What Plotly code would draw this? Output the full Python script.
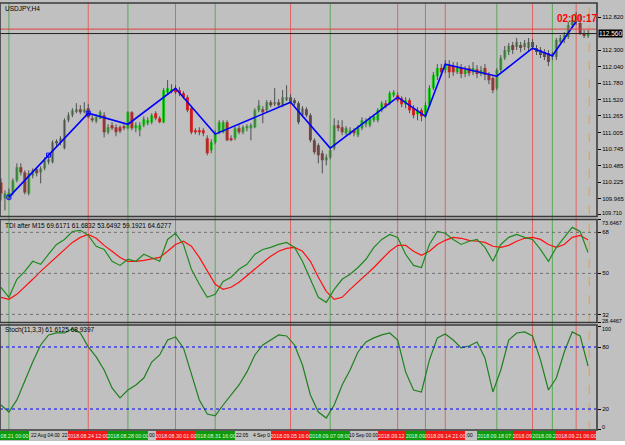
import plotly.graph_objects as go

# ---------------- data ----------------
symbol_title = "USDJPY,H4"
tdi_title = "TDI after M15 69.6171 61.6832 53.6492 59.1921 64.6277"
stoch_title = "Stoch(11,3,3) 61.6125 68.9397"
countdown = "02:00:17"

opn = [
110.222, 109.970, 109.986, 110.064, 110.253, 110.458, 110.379, 110.049, 110.332, 110.427,
110.379, 110.442, 110.553, 110.537, 110.868, 110.852, 110.757, 111.198, 111.277, 111.340,
111.371, 111.340, 111.387, 111.230, 111.182, 111.230, 111.277, 111.009, 111.119, 111.088,
111.088, 111.104, 111.072, 111.324, 111.072, 111.041, 111.119, 111.151, 111.167, 111.308,
111.230, 111.167, 111.639, 111.655, 111.702, 111.671, 111.623, 111.560, 111.387, 111.041,
111.041, 111.041, 110.915, 110.726, 110.852, 111.009, 111.009, 111.167, 110.915, 110.915,
111.072, 111.009, 111.072, 111.072, 111.088, 111.356, 111.371, 111.356, 111.482, 111.450,
111.482, 111.434, 111.529, 111.560, 111.513, 111.466, 111.277, 111.371, 111.277, 110.883,
110.805, 110.679, 110.568, 110.616, 110.757, 111.119, 111.088, 110.994, 110.994, 111.041,
110.962, 111.072, 111.135, 111.119, 111.198, 111.198, 111.356, 111.466, 111.466, 111.592,
111.592, 111.545, 111.450, 111.513, 111.387, 111.293, 111.356, 111.261, 111.434, 111.702,
111.891, 112.017, 111.986, 112.064, 112.049, 111.954, 112.017, 111.923, 112.017, 111.954,
112.001, 111.923, 112.017, 111.907, 111.860, 111.702, 111.986, 112.175, 112.269, 112.379,
112.348, 112.379, 112.348, 112.332, 112.427, 112.332, 112.301, 112.269, 112.253, 112.190,
112.190, 112.427, 112.458, 112.505, 112.694, 112.742, 112.726, 112.568, 112.537]

high = [
110.285, 110.096, 110.127, 110.285, 110.521, 110.521, 110.411, 110.411, 110.442, 110.458,
110.474, 110.616, 110.631, 110.883, 110.899, 110.946, 111.230, 111.324, 111.387, 111.466,
111.434, 111.482, 111.450, 111.277, 111.293, 111.356, 111.324, 111.135, 111.167, 111.135,
111.119, 111.135, 111.340, 111.340, 111.167, 111.167, 111.261, 111.245, 111.308, 111.340,
111.261, 111.702, 111.828, 111.765, 111.749, 111.718, 111.655, 111.592, 111.419, 111.072,
111.088, 111.072, 110.962, 110.899, 111.041, 111.198, 111.198, 111.198, 110.962, 111.104,
111.119, 111.119, 111.135, 111.151, 111.387, 111.513, 111.419, 111.513, 111.513, 111.702,
111.529, 111.671, 111.749, 111.608, 111.545, 111.497, 111.419, 111.403, 111.308, 110.915,
110.836, 110.726, 110.663, 110.773, 111.230, 111.198, 111.198, 111.104, 111.088, 111.072,
111.119, 111.245, 111.230, 111.261, 111.293, 111.387, 111.497, 111.513, 111.655, 111.671,
111.639, 111.576, 111.560, 111.545, 111.434, 111.403, 111.387, 111.482, 111.749, 111.954,
112.080, 112.080, 112.143, 112.143, 112.112, 112.112, 112.080, 112.049, 112.064, 112.112,
112.064, 112.049, 112.080, 111.954, 111.891, 112.017, 112.222, 112.364, 112.411, 112.427,
112.490, 112.427, 112.458, 112.490, 112.474, 112.379, 112.348, 112.316, 112.301, 112.269,
112.490, 112.537, 112.584, 112.742, 112.852, 112.899, 112.852, 112.616, 112.616]

low = [
109.938, 109.781, 109.938, 110.017, 110.222, 110.332, 110.033, 110.017, 110.285, 110.316,
110.206, 110.411, 110.505, 110.521, 110.789, 110.805, 110.742, 111.167, 111.245, 111.308,
111.293, 111.308, 111.230, 111.167, 111.151, 111.214, 110.931, 110.978, 111.041, 110.946,
110.994, 111.041, 111.056, 111.041, 111.009, 110.946, 111.088, 111.119, 111.135, 111.198,
111.151, 111.151, 111.608, 111.623, 111.608, 111.576, 111.529, 111.324, 110.978, 110.978,
110.962, 110.946, 110.647, 110.679, 110.820, 110.978, 110.994, 110.868, 110.868, 110.883,
110.978, 110.978, 111.025, 110.883, 111.072, 111.324, 111.151, 111.324, 111.403, 111.419,
111.403, 111.403, 111.497, 111.450, 111.434, 111.135, 111.245, 111.245, 110.852, 110.663,
110.521, 110.364, 110.490, 110.584, 110.726, 111.025, 110.962, 110.962, 110.962, 110.946,
110.931, 111.041, 111.088, 111.088, 111.167, 111.167, 111.324, 111.387, 111.434, 111.560,
111.482, 111.403, 111.387, 111.308, 111.230, 111.198, 111.182, 111.230, 111.403, 111.671,
111.828, 111.891, 111.938, 111.860, 111.891, 111.923, 111.860, 111.875, 111.891, 111.907,
111.860, 111.891, 111.828, 111.765, 111.623, 111.671, 111.954, 112.143, 112.222, 112.238,
112.301, 112.269, 112.301, 112.285, 112.301, 112.222, 112.175, 112.143, 112.049, 112.143,
112.143, 112.379, 112.411, 112.474, 112.647, 112.694, 112.537, 112.490, 112.490]

close = [
110.049, 110.049, 110.064, 110.253, 110.458, 110.379, 110.064, 110.364, 110.411, 110.364,
110.442, 110.568, 110.584, 110.852, 110.836, 110.915, 111.198, 111.277, 111.356, 111.371,
111.324, 111.371, 111.245, 111.198, 111.245, 111.324, 111.009, 111.088, 111.072, 111.009,
111.025, 111.072, 111.324, 111.072, 111.119, 111.119, 111.214, 111.198, 111.277, 111.230,
111.167, 111.671, 111.702, 111.686, 111.639, 111.623, 111.560, 111.356, 111.009, 111.009,
111.009, 110.994, 110.679, 110.852, 110.994, 111.167, 111.167, 110.883, 110.883, 111.072,
111.009, 111.088, 111.104, 111.119, 111.356, 111.434, 111.324, 111.482, 111.434, 111.482,
111.434, 111.560, 111.560, 111.482, 111.466, 111.167, 111.387, 111.277, 110.883, 110.694,
110.647, 110.568, 110.616, 110.726, 111.119, 111.072, 111.009, 111.072, 111.041, 110.994,
111.088, 111.198, 111.182, 111.230, 111.261, 111.356, 111.466, 111.419, 111.623, 111.639,
111.513, 111.450, 111.513, 111.356, 111.277, 111.356, 111.261, 111.434, 111.702, 111.907,
112.017, 111.954, 112.080, 111.954, 111.954, 112.017, 111.923, 111.986, 111.938, 112.017,
111.923, 111.986, 111.907, 111.828, 111.671, 111.986, 112.175, 112.301, 112.364, 112.301,
112.427, 112.332, 112.411, 112.427, 112.348, 112.269, 112.222, 112.190, 112.112, 112.222,
112.458, 112.490, 112.537, 112.694, 112.773, 112.852, 112.568, 112.537, 112.560]

# zigzag pivots (bar index, price) and pivot kind
zz_idx = [2, 22, 32, 44, 54, 73, 83, 100, 107, 112, 125, 134, 139, 145]
zz_price = [109.99, 111.31, 111.135, 111.70, 110.98, 111.48, 110.76, 111.56, 111.26,
            112.08, 111.89, 112.33, 112.21, 112.75]
zz_kind = ["low", "high", "low", "high", "low", "high", "low", "high", "low", "high",
           "low", "high", "low", "high"]
zz_labels = ["2018.08.21 00:00", "2018.08.24 12:00", "2018.08.28 00:00", "2018.08.30 01:00",
             "2018.08.31 16:00", "2018.09.05 16:00", "2018.09.07 08:00", "2018.09.12 08:00",
             "2018.09.13 12:00", "2018.09.14 21:00", "2018.09.18 07:00", "2018.09.20 03:00",
             "2018.09.20 23:00", "2018.09.21 06:00"]
mark_idx = [2, 12, 22]
mark_price = [109.99, 110.65, 111.31]

# visible parts of the platform's time-scale labels
time_label_idx = [7.6, 15.4, 37.15, 59.3, 63.55, 87.8, 117.3]
time_label_txt = ["22 Aug 04:00", "22", ":00", "22:05", "4 Sep 0", "10 Sep 00:00", ":00"]

price_ticks = [112.820, 112.300, 112.040, 111.780, 111.520, 111.265, 111.005, 110.745,
               110.485, 110.225, 109.965, 109.710]
bid_price = 112.560
ask_line = 112.63
shift_idx = 148.3

osc_idx = list(range(0, 149, 2))
tdi_green = [43.9, 39.5, 47.4, 50.9, 55.3, 54.0, 58.4, 62.7, 64.9, 68.4,
             68.9, 66.7, 61.9, 60.5, 55.3, 53.5, 56.2, 55.3, 58.4, 57.0,
             55.3, 64.9, 67.6, 62.7, 51.8, 45.2, 39.5, 40.8, 46.5, 48.3,
             51.8, 54.0, 58.4, 60.5, 61.4, 62.7, 63.6, 61.4, 55.3, 47.4,
             39.5, 37.3, 43.0, 47.4, 49.6, 52.6, 56.2, 61.4, 64.9, 67.1,
             65.8, 58.4, 53.5, 52.6, 62.7, 68.4, 67.6, 64.9, 62.7, 64.1,
             64.9, 61.4, 55.3, 62.7, 65.8, 67.1, 65.8, 64.9, 60.5, 55.3,
             61.4, 65.8, 70.2, 68.4, 59.19]
tdi_red = [39.5, 38.6, 40.8, 43.9, 47.4, 50.9, 54.0, 57.0, 60.5, 63.6,
           65.8, 67.1, 65.4, 62.3, 59.7, 57.0, 55.3, 55.3, 55.7, 56.2,
           57.0, 59.7, 62.7, 64.1, 61.9, 57.0, 50.9, 45.2, 43.0, 43.9,
           46.1, 49.1, 51.8, 54.8, 57.5, 59.7, 61.0, 61.4, 59.7, 55.3,
           48.3, 42.1, 38.6, 39.5, 43.0, 46.1, 49.6, 52.6, 56.2, 59.7,
           62.3, 62.3, 59.7, 57.9, 59.7, 62.7, 64.5, 65.8, 65.4, 64.5,
           64.1, 63.6, 61.9, 61.4, 62.3, 64.1, 65.4, 65.8, 64.9, 62.7,
           61.4, 62.7, 65.8, 66.7, 64.63]
stoch_main = [23.9, 17.1, 28.8, 48.1, 65.5, 82.0, 91.7, 93.6, 93.6, 97.5,
              93.6, 80.1, 70.4, 57.8, 40.4, 30.7, 38.4, 43.3, 50.0, 65.5,
              72.3, 86.8, 89.7, 79.1, 53.0, 28.8, 15.2, 13.3, 23.9, 33.6,
              43.3, 55.9, 72.3, 82.0, 86.8, 91.7, 90.7, 82.0, 62.6, 33.6,
              17.1, 11.3, 23.9, 43.3, 57.8, 75.2, 84.9, 88.8, 91.7, 93.6,
              86.8, 55.9, 38.4, 36.5, 67.5, 88.8, 92.6, 86.8, 79.1, 81.0,
              84.9, 69.4, 36.5, 57.8, 86.8, 93.6, 94.6, 90.7, 67.5, 38.4,
              50.0, 75.2, 94.6, 90.7, 61.61]
tdi_levels = [68, 50, 32]
tdi_ticks = [73.6467, 68, 50, 32, 28.4467]
tdi_ticktext = ["73.6467", "68", "50", "32", "28.4467"]
stoch_levels = [80, 20]
stoch_ticks = [100, 80, 20, 0]

# ---------------- styling / layout ----------------
W, H = 625, 445
TOP, BOT = 3, 430
PH = BOT - TOP
PW = 602
X0, X1 = -0.25, 150.25
FONT = "Liberation Sans"
BG = "#C0C0C0"
UP, DN = "#1FCF1F", "#D42020"
VRED, VGREEN = "#E06464", "#5AA85A"


def py(p):
    return (BOT - p) / PH


def dom(p0, p1):
    return [py(p1), py(p0)]


def xpx(i):
    return (i - X0) / (X1 - X0) * PW


n = min(len(opn), len(high), len(low), len(close))
idx = list(range(n))

fig = go.Figure()

# wicks
wx, wy = [], []
for i in idx:
    wx += [i, i, None]
    wy += [low[i], high[i], None]
fig.add_trace(go.Scatter(x=wx, y=wy, mode="lines", line=dict(color="#505050", width=1),
                         hoverinfo="skip", xaxis="x", yaxis="y"))
# bodies
body = [max(abs(close[i] - opn[i]), 0.006) for i in idx]
base = [min(close[i], opn[i]) for i in idx]
cols = [UP if close[i] >= opn[i] else DN for i in idx]
fig.add_trace(go.Bar(x=idx, y=body, base=base, width=0.75,
                     marker=dict(color=cols, line=dict(width=0)),
                     hoverinfo="skip", xaxis="x", yaxis="y"))
# zigzag
fig.add_trace(go.Scatter(x=zz_idx, y=zz_price, mode="lines",
                         line=dict(color="#0000FF", width=1.6), xaxis="x", yaxis="y"))
fig.add_trace(go.Scatter(x=mark_idx, y=mark_price, mode="markers",
                         marker=dict(symbol="square-open", size=4, color="#0000FF",
                                     line=dict(width=1)), xaxis="x", yaxis="y"))
# TDI
fig.add_trace(go.Scatter(x=osc_idx, y=tdi_red, mode="lines",
                         line=dict(color="#FF1010", width=1.2), xaxis="x", yaxis="y2"))
fig.add_trace(go.Scatter(x=osc_idx, y=tdi_green, mode="lines",
                         line=dict(color="#1E8A1E", width=1.2), xaxis="x", yaxis="y2"))
# Stoch
fig.add_trace(go.Scatter(x=osc_idx, y=stoch_main, mode="lines",
                         line=dict(color="#1E801E", width=1.2), xaxis="x", yaxis="y3"))

shapes = []
for xi, k in zip(zz_idx, zz_kind):
    shapes.append(dict(type="line", xref="x", yref="paper", x0=xi, x1=xi, y0=0, y1=1,
                       line=dict(color=VGREEN if k == "low" else VRED, width=1),
                       layer="below"))
shapes.append(dict(type="line", xref="x", yref="paper", x0=shift_idx, x1=shift_idx, y0=0, y1=1,
                   line=dict(color="#F0A020", width=1, dash="dash"), layer="below"))
shapes.append(dict(type="line", xref="paper", yref="y", x0=0, x1=1, y0=ask_line, y1=ask_line,
                   line=dict(color="#E04040", width=1)))
shapes.append(dict(type="line", xref="paper", yref="y", x0=0, x1=1, y0=bid_price, y1=bid_price,
                   line=dict(color="#202020", width=1)))
for lv in tdi_levels:
    shapes.append(dict(type="line", xref="paper", yref="y2", x0=0, x1=1, y0=lv, y1=lv,
                       line=dict(color="#707070", width=1, dash="dot")))
for lv in stoch_levels:
    shapes.append(dict(type="line", xref="paper", yref="y3", x0=0, x1=1, y0=lv, y1=lv,
                       line=dict(color="#0000FF", width=1, dash="dot")))
d_main = dom(3, 216.5)
d_tdi = dom(219.5, 322.5)
d_sto = dom(325, 430)
for d in (d_main, d_tdi, d_sto):
    shapes.append(dict(type="rect", xref="paper", yref="paper", x0=0, x1=1, y0=d[0], y1=d[1],
                       line=dict(color="#3A3A3A", width=1.6), fillcolor="rgba(0,0,0,0)"))
shapes.append(dict(type="rect", xref="paper", yref="paper", x0=-0.01, x1=1.1,
                   y0=py(445), y1=py(441), fillcolor="#FFFFFF", line=dict(width=0)))

ann = []
small = dict(family=FONT, size=6.5, color="#000000")
ann.append(dict(text=symbol_title, xref="paper", yref="paper", x=0.005, y=py(8),
                xanchor="left", yanchor="middle", showarrow=False, font=small))
ann.append(dict(text=tdi_title, xref="paper", yref="paper", x=0.005, y=py(225),
                xanchor="left", yanchor="middle", showarrow=False, font=small))
ann.append(dict(text=stoch_title, xref="paper", yref="paper", x=0.005, y=py(330),
                xanchor="left", yanchor="middle", showarrow=False, font=small))
ann.append(dict(text="<b>" + countdown + "</b>", xref="paper", yref="paper", x=582 / PW,
                y=py(18), xanchor="center", yanchor="middle", showarrow=False,
                font=dict(family=FONT, size=10, color="#FF0000")))
ann.append(dict(text=f"{bid_price:.3f}", xref="paper", yref="y", x=1, y=bid_price,
                xanchor="left", yanchor="middle", xshift=1, showarrow=False,
                bgcolor="#000000", borderpad=0,
                font=dict(family=FONT, size=6.5, color="#FFFFFF")))
# extreme scale labels (placed inside their own panels, as the platform does)
edge_labels = [("109.710", 212.5), ("73.6467", 222.5), ("28.4467", 320.5), ("100", 328.5),
               ("0", 427)]
for t, p in edge_labels:
    ann.append(dict(text=t, xref="paper", yref="paper", x=1, y=py(p), xanchor="left",
                    yanchor="middle", xshift=3, showarrow=False,
                    font=dict(family=FONT, size=5.5, color="#000000")))
# time-scale fragments
for xi, t in zip(time_label_idx, time_label_txt):
    ann.append(dict(text=t, xref="x", yref="paper", x=xi, y=py(435.5), xanchor="left",
                    yanchor="middle", showarrow=False, borderpad=0, borderwidth=0,
                    font=dict(family=FONT, size=4.9, color="#000000")))
# pivot time boxes: each later box covers the previous one, keep only visible parts
BOXW = 40
CHW = 2.5
pxs = [xpx(i) for i in zz_idx]
for j, (p, k, t) in enumerate(zip(pxs, zz_kind, zz_labels)):
    left = p - BOXW / 2
    right = p + BOXW / 2
    if j + 1 < len(pxs):
        right = min(right, pxs[j + 1] - BOXW / 2)
    txt = t
    if left < 0:
        nch = int((right - 0) / CHW)
        txt = t[len(t) - nch:]
        left = 0
    elif right - left < BOXW - 1:
        nch = int((right - left) / CHW)
        txt = t[:nch]
    w = right - left
    cx = X0 + (left + right) / 2 / PW * (X1 - X0)
    ann.append(dict(text=txt, xref="x", yref="paper", x=cx, y=py(435.5), xanchor="center",
                    yanchor="middle", showarrow=False, width=max(w, 4), height=9,
                    bgcolor="#0E9A0E" if k == "low" else "#F01818", borderpad=0,
                    borderwidth=0,
                    font=dict(family=FONT, size=5.3,
                              color="#D8FFD8" if k == "low" else "#FFE0E0")))

axis_common = dict(side="right", anchor="x", showgrid=False, zeroline=False,
                   ticks="outside", ticklen=3, tickcolor="#000000", tickwidth=1,
                   tickfont=dict(family=FONT, size=6, color="#000000"),
                   showline=False, fixedrange=True)


def txt_or_blank(vals, texts, blanks):
    return [("" if v in blanks else t) for v, t in zip(vals, texts)]


fig.update_layout(
    width=W, height=H,
    margin=dict(l=0, r=W - PW, t=TOP, b=H - BOT, pad=0),
    paper_bgcolor=BG, plot_bgcolor="rgba(0,0,0,0)",
    showlegend=False, barmode="overlay",
    xaxis=dict(domain=[0, 1], range=[X0, X1], showticklabels=False, showgrid=False,
               zeroline=False, ticks="", anchor="y3", fixedrange=True),
    yaxis=dict(domain=d_main, range=[109.686, 113.040], tickvals=price_ticks,
               ticktext=txt_or_blank(price_ticks, [f"{v:.3f}" for v in price_ticks], [109.710]),
               **axis_common),
    yaxis2=dict(domain=d_tdi, range=[28.4467, 73.6467], tickvals=tdi_ticks,
                ticktext=txt_or_blank(tdi_ticks, tdi_ticktext, [73.6467, 28.4467]),
                **axis_common),
    yaxis3=dict(domain=d_sto, range=[-0.3, 101.3], tickvals=stoch_ticks,
                ticktext=txt_or_blank(stoch_ticks, [str(v) for v in stoch_ticks], [100, 0]),
                **axis_common),
    shapes=shapes, annotations=ann,
)

fig.write_html("out.html")
